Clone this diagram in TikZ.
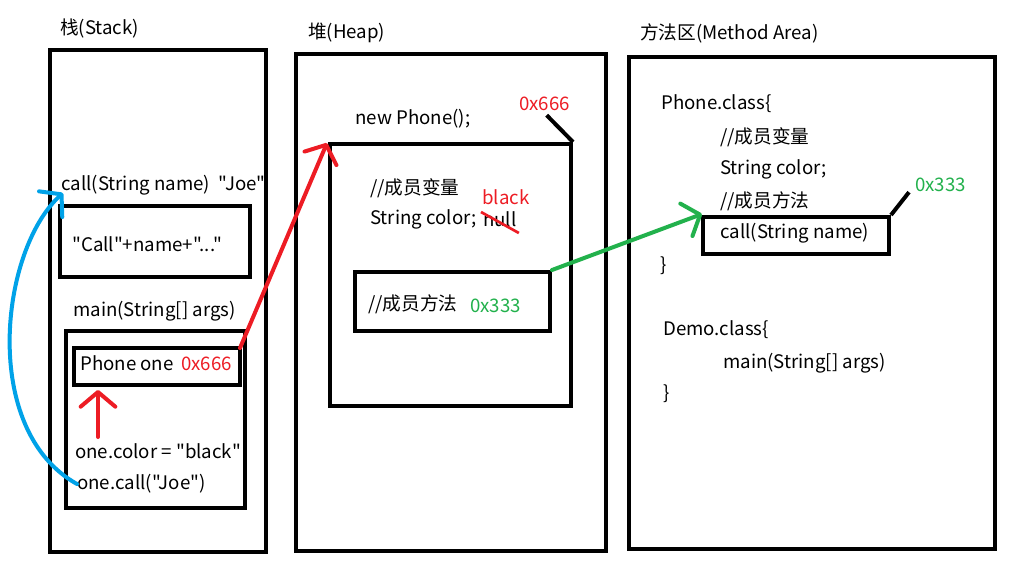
\documentclass[tikz,border=0pt]{standalone}
\usepackage{fontspec}
\setmainfont{Noto Sans CJK SC}[Ligatures=TeXOff]
\usetikzlibrary{arrows.meta,calc}
\definecolor{pred}{RGB}{237,28,36}
\definecolor{pgreen}{RGB}{34,177,76}
\definecolor{pblue}{RGB}{0,162,232}
\begin{document}
\begin{tikzpicture}[x=0.75pt,y=-0.75pt,
  box/.style={draw=black,line width=3pt,inner sep=0pt,anchor=north west},
  txt/.style={inner sep=0pt,anchor=west,font=\fontsize{14pt}{16pt}\selectfont},
  barb/.style={line width=3pt,line cap=round,-{Straight Barb[length=11pt,width=26pt,round]}},
  tick/.style={line width=3pt}]
\useasboundingbox[fill=white] (0,0) rectangle (1030,583);
% ---------- Stack ----------
\node[txt] (stacklbl) at (60,28) {栈(Stack)};
\node[box,minimum width=162pt,minimum height=376.5pt] (stack) at (48,48) {};
\node[txt] (calltxt) at (61,185) {call(String name)\ \ "Joe"};
\node[box,minimum width=142.5pt,minimum height=53.25pt] (callbox) at (58,204) {};
\node[txt] (calltext) at (72,244) {"Call"+name+"..."};
\node[txt] (maintxt) at (73,311) {main(String[] args)};
\node[box,minimum width=134.25pt,minimum height=132.75pt] (mainbox) at (64,329) {};
\node[box,minimum width=124.5pt,minimum height=27.75pt] (phonebox) at (72,346) {};
\node[txt] (phonetxt) at (80,363) {Phone one};
\node[txt,text=pred] (addrone) at (181,364) {0x666};
\node[txt] (colortxt) at (75,451) {one.color = "black"};
\node[txt] (onecall) at (77,484) {one.call("Joe")};
% ---------- Heap ----------
\node[txt] (heaplbl) at (308,33) {堆(Heap)};
\node[box,minimum width=232.5pt,minimum height=372.75pt] (heap) at (294,52) {};
\node[txt] (newtxt) at (355,119) {new Phone();};
\node[txt,text=pred] (addr666) at (519,104) {0x666};
\node[box,minimum width=180.75pt,minimum height=196.5pt] (obj) at (328,142) {};
\node[txt] (varcmt) at (370,188) {//成员变量};
\node[txt] (colorfld) at (370,219) {String color;};
\node[txt] (nulltxt) at (483,219) {null};
\node[txt,text=pred] (blacktxt) at (482,197) {black};
\node[box,minimum width=146.25pt,minimum height=44.25pt] (mbox) at (353,270) {};
\node[txt] (mcmt) at (368,304) {//成员方法};
\node[txt,text=pgreen] (addr333a) at (470,306) {0x333};
% ---------- Method area ----------
\node[txt] (malbl) at (640,33) {方法区(Method Area)};
\node[box,minimum width=274.5pt,minimum height=369pt] (marea) at (627,55) {};
\node[txt] (pclass) at (661,104) {Phone.class\{};
\node[txt] (pvar) at (720,137) {//成员变量};
\node[txt] (pcolor) at (720,169) {String color;};
\node[txt] (pmeth) at (720,201) {//成员方法};
\node[box,minimum width=139.5pt,minimum height=27.75pt] (cbox) at (701,215) {};
\node[txt] (ctxt) at (720,233) {call(String name)};
\node[txt,text=pgreen] (addr333) at (915,185) {0x333};
\node[txt] (pend) at (660,266) {\}};
\node[txt] (dclass) at (663,330) {Demo.class\{};
\node[txt] (dmain) at (723,363) {main(String[] args)};
\node[txt] (dend) at (663,394) {\}};
% ---------- connectors ----------
\coordinate (upstart) at (98,437);
\draw[barb,pred] (upstart) -- ($(upstart |- phonebox.south)+(0,3)$);
\draw[barb,pred] ($(phonebox.north east)+(-2,2)$) -- ($(obj.north west)+(-1,1)$);
\draw[barb,pgreen] (mbox.north east) -- ($(cbox.north west)+(1,-1)$);
\draw[barb,pblue] (onecall.west) .. controls (-20,430) and (0,250) .. ($(calltxt.west)+(2,8)$);
\draw[tick] ($(addr666.south)+(2,4)$) -- (obj.north east);
\draw[tick] ($(addr333.south west)+(-6,0)$) -- (cbox.north east);
\draw[line width=2pt,pred] ($(nulltxt.west)+(-2,-7)$) -- ($(nulltxt.east)+(2,14)$);
\end{tikzpicture}
\end{document}
